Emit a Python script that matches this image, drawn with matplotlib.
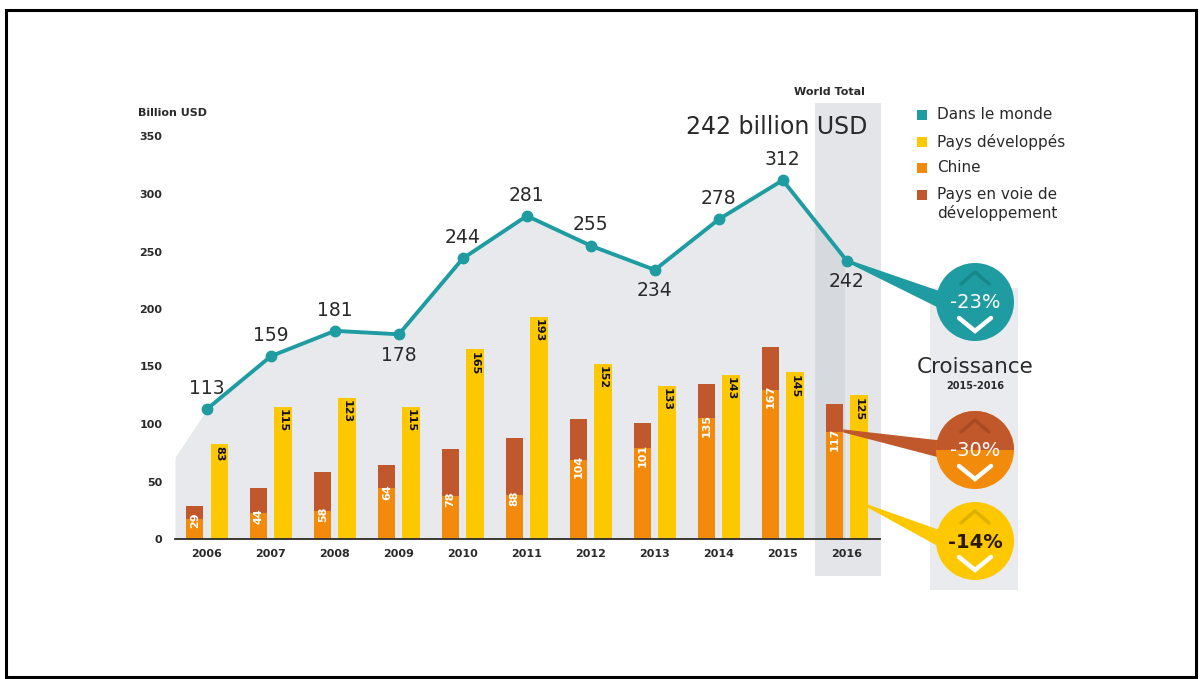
import matplotlib
matplotlib.use("Agg")
import matplotlib.pyplot as plt
from matplotlib.patches import Rectangle, Circle, Polygon, Wedge
import numpy as np

plt.rcParams['font.family'] = ['DejaVu Sans']

# ---------------- data ----------------
years = ['2006', '2007', '2008', '2009', '2010', '2011', '2012', '2013', '2014', '2015', '2016']
world = [113, 159, 181, 178, 244, 281, 255, 234, 278, 312, 242]
developed = [83, 115, 123, 115, 165, 193, 152, 133, 143, 145, 125]
developing = [29, 44, 58, 64, 78, 88, 104, 101, 135, 167, 117]
china = [17, 23, 24, 44, 37, 38, 69, 79, 105, 130, 93]
yticks = [0, 50, 100, 150, 200, 250, 300, 350]
growth_labels = ['-23%', '-30%', '-14%']
legend_labels = ['Dans le monde', 'Pays développés', 'Chine', 'Pays en voie de\ndéveloppement']

TEAL = '#1f9ca2'
YELLOW = '#fdc800'
ORANGE = '#f28a0c'
BROWN = '#c0582c'
AREA = '#e7e9ec'
TXT = '#2a2a2a'

W, H = 1203, 679
fig = plt.figure(figsize=(W / 100, H / 100), dpi=100)
fig.patch.set_facecolor('white')

# background overlay (pixel coordinates)
bg = fig.add_axes([0, 0, 1, 1], zorder=0)
bg.set_xlim(0, W); bg.set_ylim(H, 0); bg.axis('off')

# main axes
x = np.arange(len(years))
ax = fig.add_axes([175 / W, (H - 539) / H, 705 / W, (539 - 136.5) / H], zorder=1)
ax.patch.set_alpha(0)
ax.set_xlim(-0.5, 10.52)
ax.set_ylim(0, 350)
for s in ax.spines.values():
    s.set_visible(False)

# top overlay (pixel coordinates)
ov = fig.add_axes([0, 0, 1, 1], zorder=3)
ov.set_xlim(0, W); ov.set_ylim(H, 0); ov.axis('off')
ov.patch.set_alpha(0)

# figure border
bg.add_patch(Rectangle((6, 10), 1190, 667, fill=False, ec='black', lw=2.2))

# highlighted 2016 column and growth band
bg.add_patch(Rectangle((815, 103), 66, 473, fc='#e3e5e8', ec='none'))
bg.add_patch(Rectangle((930, 288), 88, 302, fc='#e9ebee', ec='none'))

# gray area under the world line
ax.fill_between(np.concatenate([[-0.5], x]), 0,
                np.concatenate([[71], world]), color=AREA, zorder=0, lw=0)
ax.fill_between([9.5, 9.97], 0, [277, 242], color='#d6d9dd', zorder=0.5, lw=0)

# bars
bw = 0.27
off = 0.19
xd = x - off
xy = x + off
ax.bar(xd, developing, width=bw, color=BROWN, zorder=2)
ax.bar(xd, china, width=bw, color=ORANGE, zorder=2.1)
ax.bar(xy, developed, width=bw, color=YELLOW, zorder=2)

for xi, v, c in zip(xd, developing, china):
    ax.text(xi, max(c + 4, 23), str(v), rotation=90, ha='center', va='top',
            color='white', fontsize=8, fontweight='bold', zorder=3)
for xi, v in zip(xy, developed):
    ax.text(xi, v - 2, str(v), rotation=-90, ha='center', va='top',
            color='#111', fontsize=8, fontweight='bold', zorder=3)

# world line
ax.plot(x, world, color=TEAL, lw=2.8, marker='o', ms=7.5, zorder=4)
below = {3, 7, 10}
for i, v in enumerate(world):
    dy = -15 if i in below else 15
    ax.annotate(str(v), (x[i], v), xytext=(0, dy), textcoords='offset points',
                ha='center', va='center', fontsize=13.5, color=TXT, zorder=5)

# baseline
ax.axhline(0, color='#2b2b2b', lw=1.3, zorder=3, clip_on=False)

# ticks
ax.set_xticks(x)
ax.set_xticklabels(years, fontsize=8, fontweight='bold', color=TXT)
ax.set_yticks(yticks)
ax.set_yticklabels([str(t) for t in yticks], fontsize=8, fontweight='bold', color=TXT)
ax.tick_params(axis='both', length=0)
ax.tick_params(axis='y', pad=9)
ax.tick_params(axis='x', pad=7)

ov.text(138, 113, 'Billion USD', fontsize=8, fontweight='bold', color=TXT,
        ha='left', va='center')
ov.text(829, 92, 'World Total', fontsize=8, fontweight='bold', color=TXT,
        ha='center', va='center')
ov.text(777, 127, '242 billion USD', fontsize=17, color=TXT,
        ha='center', va='center')

# legend
leg_colors = [TEAL, YELLOW, ORANGE, BROWN]
leg_y = [115, 142, 168, 195]
for col, lab, ly in zip(leg_colors, legend_labels, leg_y):
    ov.add_patch(Rectangle((917, ly - 5), 10, 10, fc=col, ec='none'))
    ov.text(937, ly - 8, lab, fontsize=11, color=TXT, ha='left', va='top',
            linespacing=1.2)


def to_px(xv, yv):
    dx, dy = ax.transData.transform((xv, yv))
    return dx, H - dy


# growth circles
R = 39
cx = 975
centers = [302, 450, 541]

# tails
p_world = to_px(x[-1], world[-1])
p_dev = to_px(xd[-1] + bw / 2, china[-1] + 1)
p_devd = to_px(xy[-1] + bw / 2, developed[-1] * 0.23)
tails = [(p_world, centers[0], TEAL), (p_dev, centers[1], BROWN), (p_devd, centers[2], YELLOW)]
for (px, py), cy, col in tails:
    ov.add_patch(Polygon([(px, py - 1.5), (cx - 30, cy - 9), (cx - 30, cy + 9), (px, py + 1.5)],
                         closed=True, fc=col, ec='none', zorder=1))

ov.add_patch(Circle((cx, centers[0]), R, fc=TEAL, ec='none', zorder=2))
ov.add_patch(Circle((cx, centers[1]), R, fc=ORANGE, ec='none', zorder=2))
ov.add_patch(Wedge((cx, centers[1]), R, 180, 360, fc=BROWN, ec='none', zorder=2.1))
ov.add_patch(Circle((cx, centers[2]), R, fc=YELLOW, ec='none', zorder=2))

up_cols = ['#17878c', '#a84a22', '#e0b000']
txt_cols = ['white', 'white', '#2a1a00']
for cy, lab, uc, tc in zip(centers, growth_labels, up_cols, txt_cols):
    # faint up chevron
    ov.plot([cx - 14, cx, cx + 14], [cy - 18, cy - 30, cy - 18], color=uc, lw=2.5,
            zorder=3, solid_capstyle='round')
    ov.text(cx, cy + 1, lab, fontsize=14, color=tc, ha='center', va='center',
            fontweight='bold' if tc != 'white' else 'normal', zorder=4)
    ov.plot([cx - 16, cx, cx + 16], [cy + 16, cy + 29, cy + 16], color='white', lw=3.2,
            zorder=4, solid_capstyle='round', solid_joinstyle='miter')

ov.text(cx, 367, 'Croissance', fontsize=15.5, color=TXT, ha='center', va='center')
ov.text(cx, 386, '2015-2016', fontsize=7, fontweight='bold', color=TXT,
        ha='center', va='center')

fig.savefig('out.png', dpi=100)
